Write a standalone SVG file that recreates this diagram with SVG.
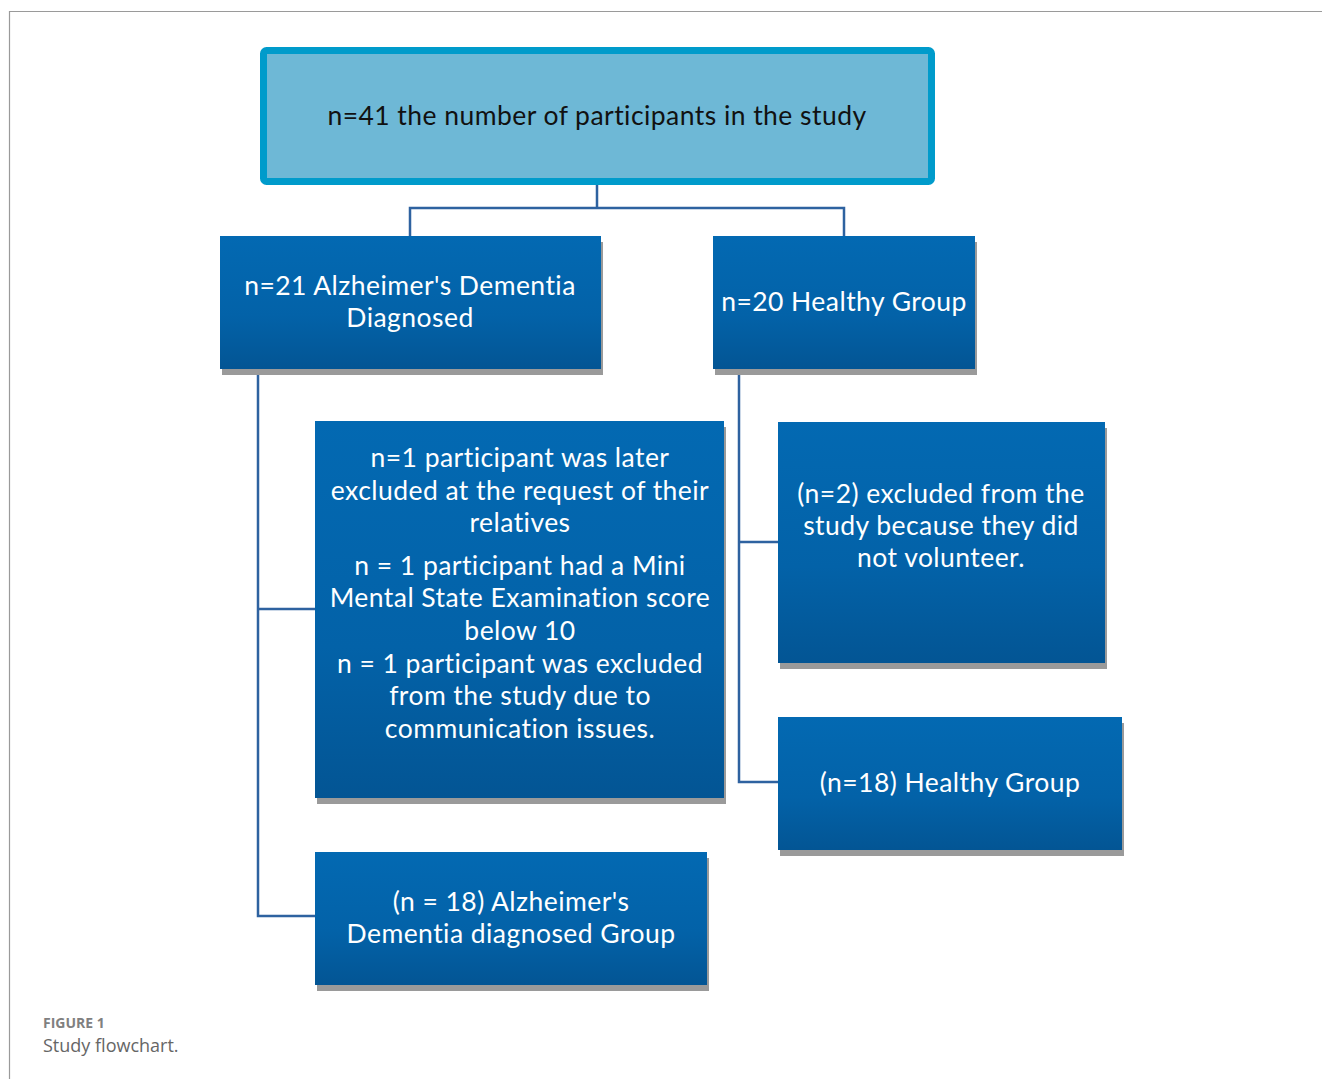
<svg xmlns="http://www.w3.org/2000/svg" width="1322" height="1079" viewBox="0 0 1322 1079">
<style>
.t{font-family:Lato,"Open Sans",sans-serif;font-size:26.5px;letter-spacing:0.45px;text-anchor:middle}
.w{fill:#ffffff}
.k{fill:#111111}
.box{fill:url(#g)}
.sh{fill:#9a9a9a}
.c{fill:none;stroke:#2e62a0;stroke-width:2.5}
</style>
<defs>
<linearGradient id="g" x1="0" y1="0" x2="0" y2="1">
<stop offset="0" stop-color="#0369b2"/>
<stop offset="0.6" stop-color="#0362a8"/>
<stop offset="1" stop-color="#035594"/>
</linearGradient>
</defs>
<rect x="0" y="0" width="1322" height="1079" fill="#ffffff"/>
<path d="M9.5 1079 V11.5 H1322" fill="none" stroke="#9a9a9a" stroke-width="1.2"/>
<g id="connectors">
<path class="c" d="M597 185 V208 M410 236 V208 H844 V236"/>
<path class="c" d="M258 369 V916 H315 M258 609 H315"/>
<path class="c" d="M739 369 V782 H778 M739 542 H778"/>
</g>
<g id="n-top">
<rect x="263.5" y="50.5" width="668" height="131" rx="3" fill="#6eb8d6" stroke="#009bcb" stroke-width="7"/>
<text class="t k" x="597" y="125">n=41 the number of participants in the study</text>
</g>
<g id="n-alz">
<rect class="sh" x="222" y="242" width="381" height="133"/>
<rect class="box" x="220" y="236" width="381" height="133"/>
<text class="t w" x="410" y="295">n=21 Alzheimer's Dementia</text>
<text class="t w" x="410" y="327">Diagnosed</text>
</g>
<g id="n-healthy">
<rect class="sh" x="715" y="242" width="262" height="133"/>
<rect class="box" x="713" y="236" width="262" height="133"/>
<text class="t w" x="844" y="311">n=20 Healthy Group</text>
</g>
<g id="n-excl-alz">
<rect class="sh" x="317" y="427" width="409" height="377"/>
<rect class="box" x="315" y="421" width="409" height="377"/>
<text class="t w" x="520" y="467">n=1 participant was later</text>
<text class="t w" x="520" y="500">excluded at the request of their</text>
<text class="t w" x="520" y="532">relatives</text>
<text class="t w" x="520" y="575">n = 1 participant had a Mini</text>
<text class="t w" x="520" y="607">Mental State Examination score</text>
<text class="t w" x="520" y="640">below 10</text>
<text class="t w" x="520" y="673">n = 1 participant was excluded</text>
<text class="t w" x="520" y="705">from the study due to</text>
<text class="t w" x="520" y="738">communication issues.</text>
</g>
<g id="n-excl-healthy">
<rect class="sh" x="780" y="428" width="327" height="241"/>
<rect class="box" x="778" y="422" width="327" height="241"/>
<text class="t w" x="941" y="503">(n=2) excluded from the</text>
<text class="t w" x="941" y="535">study because they did</text>
<text class="t w" x="941" y="567">not volunteer.</text>
</g>
<g id="n-healthy-final">
<rect class="sh" x="780" y="723" width="344" height="133"/>
<rect class="box" x="778" y="717" width="344" height="133"/>
<text class="t w" x="950" y="792">(n=18) Healthy Group</text>
</g>
<g id="n-alz-final">
<rect class="sh" x="317" y="858" width="392" height="133"/>
<rect class="box" x="315" y="852" width="392" height="133"/>
<text class="t w" x="511" y="911">(n = 18) Alzheimer's</text>
<text class="t w" x="511" y="943">Dementia diagnosed Group</text>
</g>
<g id="caption">
<text x="43" y="1028" font-family="'Open Sans','Noto Sans',sans-serif" font-size="14" font-weight="bold" fill="#808080">FIGURE 1</text>
<text x="43" y="1052" font-family="'Open Sans','Noto Sans',sans-serif" font-size="18" fill="#666666">Study flowchart.</text>
</g>
</svg>
